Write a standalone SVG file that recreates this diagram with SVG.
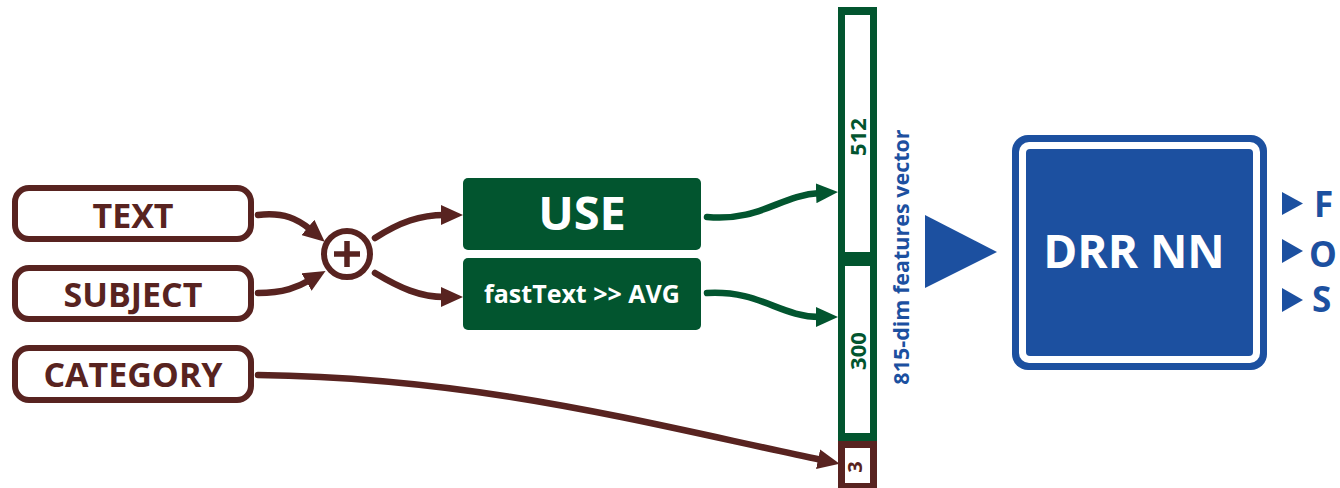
<svg xmlns="http://www.w3.org/2000/svg" width="1340" height="488" viewBox="0 0 1340 488">
<defs>
<style>
.in rect{fill:#fff;stroke:#582320;stroke-width:6}
.lbl{font-family:"Open Sans","Liberation Sans",sans-serif;font-weight:700}
.brn{fill:#582320}
.grn{fill:#02552f}
.blu{fill:#1c50a0}
.wht{fill:#fff}
.cb{fill:none;stroke:#582320;stroke-width:6.5;stroke-linecap:round}
.cg{fill:none;stroke:#02552f;stroke-width:6.5;stroke-linecap:round}
</style>
<marker id="ab" viewBox="0 0 22 20" refX="4" refY="10" markerWidth="22" markerHeight="20" markerUnits="userSpaceOnUse" orient="auto"><path d="M0,0 L22,10 L0,20 z" fill="#582320"/></marker>
<marker id="ag" viewBox="0 0 22 20" refX="4" refY="10" markerWidth="22" markerHeight="20" markerUnits="userSpaceOnUse" orient="auto"><path d="M0,0 L22,10 L0,20 z" fill="#02552f"/></marker>
</defs>
<rect width="1340" height="488" fill="#fff"/>

<g id="connectors">
<path class="cb" d="M258,215 C284,212 298,219 311,230" marker-end="url(#ab)"/>
<path class="cb" d="M258,293 C284,293 298,287 310,280" marker-end="url(#ab)"/>
<path class="cb" d="M375,238 C400,222 420,215 445,215" marker-end="url(#ab)"/>
<path class="cb" d="M375,273 C400,288 420,297 445,297" marker-end="url(#ab)"/>
<path class="cg" d="M707,217 C760,222 780,195 820,193" marker-end="url(#ag)"/>
<path class="cg" d="M707,293 C760,290 780,317 820,317" marker-end="url(#ag)"/>
<path class="cb" d="M258,375 C480,378 640,422 822,460" marker-end="url(#ab)"/>
</g>

<g id="text" class="in">
<rect x="15" y="188" width="236" height="51" rx="14"/>
<text class="lbl brn" x="133" y="228" font-size="34" text-anchor="middle">TEXT</text>
</g>
<g id="subject" class="in">
<rect x="15" y="268" width="236" height="51" rx="14"/>
<text class="lbl brn" x="133" y="307" font-size="34" text-anchor="middle">SUBJECT</text>
</g>
<g id="category" class="in">
<rect x="15" y="348" width="236" height="52" rx="14"/>
<text class="lbl brn" x="133" y="387" font-size="34" text-anchor="middle">CATEGORY</text>
</g>

<g id="plus">
<circle cx="347" cy="254" r="23" fill="#fff" stroke="#582320" stroke-width="6"/>
<path d="M334,254 H360 M347,241 V267" stroke="#582320" stroke-width="5.5" fill="none"/>
</g>

<g id="use">
<rect x="463" y="178" width="238" height="72" rx="5" class="grn"/>
<text class="lbl wht" x="582" y="230" font-size="47" text-anchor="middle">USE</text>
</g>
<g id="fasttext">
<rect x="463" y="258" width="238" height="72" rx="5" class="grn"/>
<text class="lbl wht" x="582" y="303" font-size="25" text-anchor="middle">fastText &gt;&gt; AVG</text>
</g>

<g id="vector">
<rect x="838" y="7" width="39" height="434" class="grn"/>
<rect x="838" y="441" width="39" height="50" class="brn"/>
<rect x="845" y="15" width="25" height="237" class="wht"/>
<rect x="845" y="266" width="25" height="167" class="wht"/>
<rect x="845" y="448" width="25" height="35" class="wht"/>
<text class="lbl grn" font-size="22" text-anchor="middle" transform="translate(866,137) rotate(-90)">512</text>
<text class="lbl grn" font-size="22" text-anchor="middle" transform="translate(866,351) rotate(-90)">300</text>
<text class="lbl brn" font-size="20" text-anchor="middle" transform="translate(862,467) rotate(-90)">3</text>
<text class="lbl blu" font-size="21.5" text-anchor="middle" transform="translate(909,257) rotate(-90)">815-dim features vector</text>
</g>

<g id="input-arrow">
<polygon points="925,215 997,252 925,288" class="blu"/>
</g>

<g id="drr">
<rect x="1012" y="135" width="255" height="235" rx="16" class="blu"/>
<rect x="1019" y="142" width="241" height="221" rx="10" class="wht"/>
<rect x="1026" y="149" width="227" height="207" rx="4" class="blu"/>
<text class="lbl wht" x="1134" y="268" font-size="46" text-anchor="middle">DRR NN</text>
</g>

<g id="outputs">
<polygon points="1282,192 1303,203.5 1282,215" class="blu"/>
<polygon points="1282,239 1303,251 1282,263" class="blu"/>
<polygon points="1282,288 1303,300 1282,312" class="blu"/>
<text class="lbl blu" x="1314" y="217" font-size="35">F</text>
<text class="lbl blu" x="1309" y="267" font-size="35">O</text>
<text class="lbl blu" x="1312" y="312" font-size="35">S</text>
</g>
</svg>
